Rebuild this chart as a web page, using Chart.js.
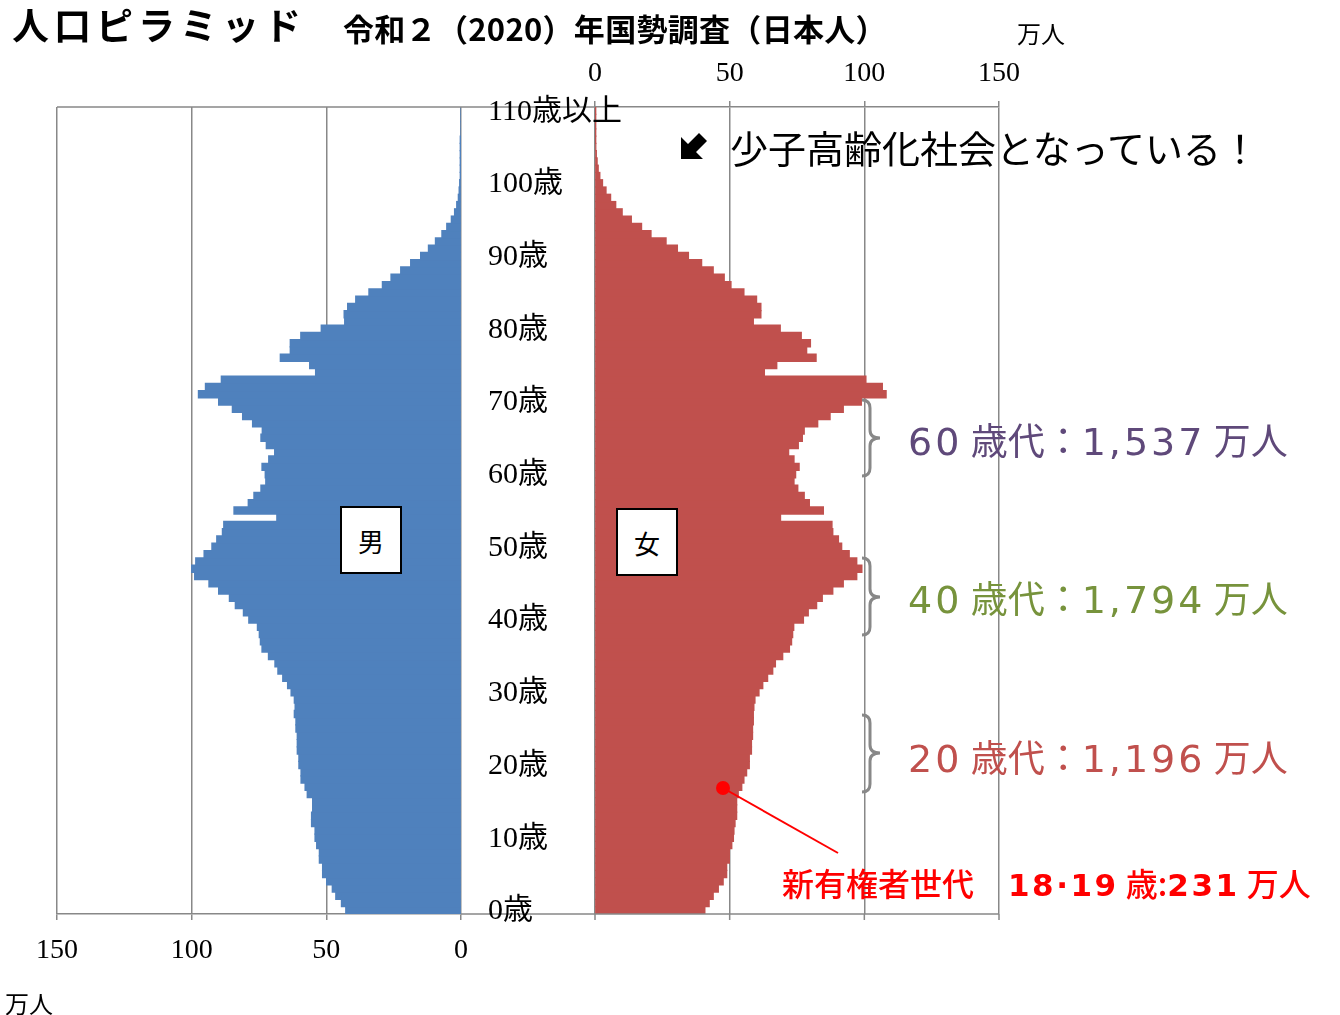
<!DOCTYPE html>
<html lang="ja">
<head>
<meta charset="utf-8">
<title>人口ピラミッド 令和2（2020）年国勢調査（日本人）</title>
<script src="https://cdn.jsdelivr.net/npm/chart.js@4.4.1/dist/chart.umd.min.js"></script>
<style>
  html, body { margin: 0; padding: 0; background: #fff; }
  body {
    width: 1340px; height: 1015px; position: relative; overflow: hidden;
    font-family: "Noto Sans CJK JP", "Noto Sans", sans-serif; color: #000;
  }
  canvas { position: absolute; top: 0; }
  #maleChart { left: 0; }
  #femaleChart { left: 488px; }
  .txt { position: absolute; white-space: nowrap; line-height: 1; }
  #title { left: 12px; top: 6px; font-size: 37px; font-weight: 700; letter-spacing: 5px; }
  #subtitle { left: 343px; top: 12px; font-size: 31px; font-weight: 700; letter-spacing: 0.3px; }
  #unitTop { left: 1017px; top: 21px; font-size: 24px; }
  #unitBottom { left: 5px; top: 991px; font-size: 24px; }
  #message { left: 730px; top: 128px; font-size: 38px; }
  .decade { left: 908px; font-size: 37px; }
  .decade .num { font-family: "DejaVu Sans", sans-serif; font-size: 38px; letter-spacing: 3px; }
  #d60 { top: 421px; color: #5F497A; }
  #d40 { top: 579px; color: #77933C; }
  #d20 { top: 738px; color: #C0504D; }
  .voter { top: 866px; font-size: 32px; color: #FF0000; font-weight: 500; }
  .voter .num { font-family: "DejaVu Sans", sans-serif; font-weight: 700; font-size: 31px; letter-spacing: 2.5px; }
  #voter1 { left: 782px; }
  #voter2 { left: 1008px; }
  .sexBox {
    position: absolute; box-sizing: border-box; width: 62px; height: 68px;
    border: 2px solid #000; background: #fff; font-size: 26px;
    display: flex; align-items: center; justify-content: center;
  }
  #boxM { left: 340px; top: 506px; }
  #boxF { left: 616px; top: 508px; }
  svg { position: absolute; left: 0; top: 0; pointer-events: none; }
</style>
</head>
<body>
<canvas id="maleChart" width="488" height="1015"></canvas>
<canvas id="femaleChart" width="852" height="1015"></canvas>

<div class="txt" id="title">人口ピラミッド</div>
<div class="txt" id="subtitle">令和２（2020）年国勢調査（日本人）</div>
<div class="txt" id="unitTop">万人</div>
<div class="txt" id="unitBottom">万人</div>
<div class="txt" id="message">少子高齢化社会となっている！</div>
<div class="txt decade" id="d60"><span class="num">60</span> 歳代：<span class="num">1,537</span> 万人</div>
<div class="txt decade" id="d40"><span class="num">40</span> 歳代：<span class="num">1,794</span> 万人</div>
<div class="txt decade" id="d20"><span class="num">20</span> 歳代：<span class="num">1,196</span> 万人</div>
<div class="txt voter" id="voter1">新有権者世代</div>
<div class="txt voter" id="voter2"><span class="num">18·19</span> 歳:<span class="num">231</span> 万人</div>
<div class="sexBox" id="boxM">男</div>
<div class="sexBox" id="boxF">女</div>

<svg width="1340" height="1015">
  <!-- arrow -->
  <polygon points="681,159 681,137 688,144 699,133 707,141 696,152 703,159" fill="#000"/>
  <!-- braces -->
  <g fill="none" stroke="#888" stroke-width="3">
    <path d="M862,400 Q870,400 870,408 L870,430 Q870,438 880,438 Q870,438 870,446 L870,468 Q870,476 862,476"/>
    <path d="M862,558 Q870,558 870,566 L870,589 Q870,597 880,597 Q870,597 870,605 L870,627 Q870,635 862,635"/>
    <path d="M862,715 Q870,715 870,723 L870,745 Q870,753 880,753 Q870,753 870,761 L870,784 Q870,792 862,792"/>
  </g>
  <!-- new voters pointer -->
  <line x1="723" y1="788" x2="838" y2="853" stroke="#FF0000" stroke-width="2"/>
  <circle cx="723" cy="788" r="7" fill="#FF0000"/>
</svg>

<script>
// Age categories 0歳 ... 110歳以上 (bottom to top)
const ageLabels = [];
for (let i = 0; i <= 110; i++) {
    ageLabels.push(i === 110 ? '110歳以上' : i + '歳');
}

// Population by single year of age, 万人 (age 0 first)
const maleValues = [
    42.8, 44.4, 46.5, 47.8, 49.9, 51.4, 51.4, 52.6, 52.6, 53.6,
    54.2, 54.2, 55.5, 55.5, 55.1, 55.1, 57.1, 57.9, 59.4, 59.4,
    60.2, 60.2, 60.8, 60.8, 60.8, 61.3, 61.3, 61.9, 61.6, 61.9,
    63.1, 64.4, 66.2, 68.0, 69.1, 71.5, 73.9, 74.5, 74.9, 75.6,
    78.8, 80.8, 83.8, 86.0, 90.0, 93.6, 98.9, 100.0, 98.5, 95.4,
    92.5, 90.7, 88.6, 88.1, 68.4, 84.3, 79.0, 76.9, 74.3, 72.5,
    72.7, 73.9, 71.4, 69.2, 72.3, 74.3, 73.8, 77.4, 81.1, 84.9,
    90.0, 97.5, 94.9, 89.0, 54.0, 56.2, 67.1, 63.4, 63.4, 59.5,
    51.9, 43.2, 43.4, 42.1, 39.1, 34.2, 29.2, 26.0, 22.4, 18.7,
    15.0, 12.1, 9.5, 7.1, 5.3, 3.6, 2.4, 1.6, 1.0, 0.7,
    0.5, 0.2, 0.1, 0.05, 0.03, 0.02, 0.01, 0.0, 0.0, 0.0, 0.0
];
const femaleValues = [
    40.8, 42.4, 43.9, 45.8, 47.6, 48.9, 48.9, 49.9, 49.9, 50.8,
    51.4, 51.6, 52.0, 52.6, 52.6, 52.6, 53.2, 54.5, 55.3, 56.3,
    57.3, 57.3, 58.1, 58.1, 58.5, 58.5, 58.8, 58.8, 59.0, 59.4,
    60.9, 62.3, 64.1, 66.0, 67.0, 69.7, 72.2, 73.0, 73.4, 73.8,
    77.4, 79.2, 82.3, 84.4, 88.3, 92.2, 97.2, 99.1, 97.2, 94.4,
    91.6, 90.4, 88.3, 88.0, 68.9, 84.8, 79.6, 77.7, 75.3, 73.9,
    74.5, 75.8, 73.9, 71.9, 75.5, 77.0, 77.7, 82.7, 87.3, 92.2,
    98.9, 108.1, 106.7, 100.6, 62.9, 67.5, 82.1, 78.6, 80.0, 76.6,
    68.8, 58.8, 61.6, 61.6, 60.0, 55.3, 50.5, 48.0, 43.9, 39.6,
    34.7, 30.6, 26.4, 20.8, 17.3, 13.5, 10.1, 7.7, 5.8, 4.1,
    2.8, 1.8, 1.2, 0.8, 0.5, 0.3, 0.2, 0.1, 0.06, 0.03, 0.02
];

// Value axis ticks (万人)
const xTickValues = [0, 50, 100, 150];

const gridColor = '#888888';
const tickFont = { family: '"Liberation Serif", "Noto Sans CJK JP", serif', size: 28 };

// Draws the outer frame lines that cross the gap between the two panels
const framePlugin = {
    id: 'frame',
    afterDraw(chart, args, opts) {
        const ctx = chart.ctx;
        const a = chart.chartArea;
        ctx.save();
        ctx.strokeStyle = gridColor;
        ctx.lineWidth = 1.5;
        ctx.beginPath();
        if (opts.side === 'left') {
            ctx.moveTo(a.left, a.top);
            ctx.lineTo(chart.width, a.top);
            ctx.moveTo(a.right, a.bottom);
            ctx.lineTo(chart.width, a.bottom);
        } else {
            ctx.moveTo(0, a.top);
            ctx.lineTo(a.left, a.top);
            ctx.moveTo(0, a.bottom);
            ctx.lineTo(a.right, a.bottom);
            const xs = chart.scales.x;
            xTickValues.forEach(v => {
                const x = xs.getPixelForValue(v);
                ctx.moveTo(x, a.bottom);
                ctx.lineTo(x, a.bottom + 6);
            });
        }
        ctx.stroke();
        ctx.restore();
    }
};

// Age labels (every 10 years) placed on the age scale, left of the female panel
const ageLabelPlugin = {
    id: 'ageLabels',
    afterDraw(chart) {
        const ctx = chart.ctx;
        const ys = chart.scales.y;
        ctx.save();
        ctx.font = '30px "Liberation Serif", "Noto Sans CJK JP", serif';
        ctx.fillStyle = '#000';
        ctx.textAlign = 'left';
        ctx.textBaseline = 'middle';
        ageLabels.forEach((label, i) => {
            if (i % 10 === 0) {
                ctx.fillText(label, 0, ys.getPixelForValue(i) + 1);
            }
        });
        ctx.restore();
    }
};

function setTicks(scale) {
    scale.ticks = xTickValues.map(v => ({ value: v }));
}

// Male (left panel, reversed value axis)
new Chart(document.getElementById('maleChart'), {
    type: 'bar',
    data: {
        labels: ageLabels,
        datasets: [{
            label: '男',
            data: maleValues,
            backgroundColor: '#4F81BD',
            borderWidth: 0,
            inflateAmount: 0.6,
            barPercentage: 1.0,
            categoryPercentage: 1.0
        }]
    },
    options: {
        indexAxis: 'y',
        responsive: false,
        animation: false,
        layout: { padding: { left: 57, top: 107, right: 27, bottom: 0 } },
        plugins: {
            legend: { display: false },
            tooltip: { enabled: false },
            frame: { side: 'left' }
        },
        scales: {
            x: {
                position: 'bottom',
                reverse: true,
                min: 0,
                max: 150,
                afterBuildTicks: setTicks,
                afterFit: function(scale) { scale.height = 101; },
                grid: { color: gridColor, lineWidth: 1.5, tickLength: 6, drawTicks: true },
                border: { color: gridColor, width: 1.5 },
                ticks: { color: '#000', font: tickFont, padding: 14, maxRotation: 0 }
            },
            y: {
                display: false,
                reverse: true
            }
        }
    },
    plugins: [framePlugin]
});

// Female (right panel)
new Chart(document.getElementById('femaleChart'), {
    type: 'bar',
    data: {
        labels: ageLabels,
        datasets: [{
            label: '女',
            data: femaleValues,
            backgroundColor: '#C0504D',
            borderWidth: 0,
            inflateAmount: 0.6,
            barPercentage: 1.0,
            categoryPercentage: 1.0
        }]
    },
    options: {
        indexAxis: 'y',
        responsive: false,
        animation: false,
        layout: { padding: { left: 107, top: 0, right: 341, bottom: 101 } },
        plugins: {
            legend: { display: false },
            tooltip: { enabled: false },
            frame: { side: 'right' }
        },
        scales: {
            x: {
                position: 'top',
                min: 0,
                max: 150,
                afterBuildTicks: setTicks,
                afterFit: function(scale) { scale.height = 107; },
                grid: { color: gridColor, lineWidth: 1.5, tickLength: 6, drawTicks: true },
                border: { color: gridColor, width: 1.5 },
                ticks: { color: '#000', font: tickFont, padding: 11, maxRotation: 0 }
            },
            y: {
                display: false,
                reverse: true
            }
        }
    },
    plugins: [framePlugin, ageLabelPlugin]
});
</script>
</body>
</html>
